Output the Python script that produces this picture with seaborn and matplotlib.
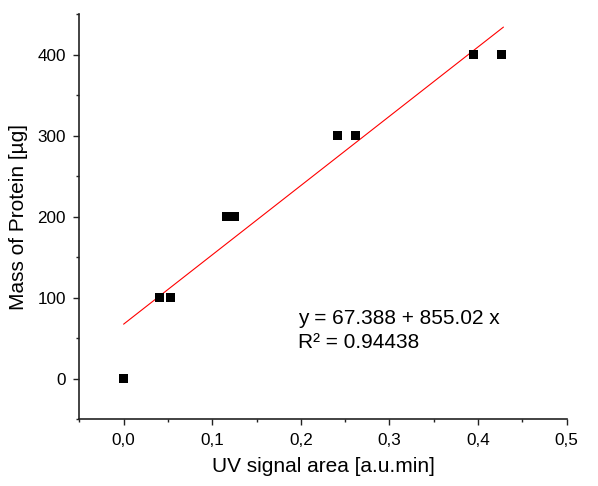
import numpy as np
import pandas as pd
import matplotlib
matplotlib.use("Agg")
import matplotlib.pyplot as plt
import seaborn as sns
from matplotlib.ticker import MultipleLocator, FuncFormatter

uv_area = [0.0, 0.0406, 0.0527, 0.1166, 0.1248, 0.241, 0.2616, 0.395, 0.4266]
mass = [0, 100, 100, 200, 200, 300, 300, 400, 400]
intercept = 67.388
slope = 855.02
r2 = 0.94438
xticks = [0.0, 0.1, 0.2, 0.3, 0.4, 0.5]
yticks = [0, 100, 200, 300, 400]

sns.set_theme(style="ticks")
plt.rcParams['font.family'] = ['Liberation Sans', 'DejaVu Sans']
plt.rcParams['text.color'] = 'black'
plt.rcParams['axes.labelcolor'] = 'black'

df = pd.DataFrame({"x": uv_area, "y": mass})
fig = plt.figure(figsize=(5.98, 4.86), dpi=100)
ax = fig.add_axes([0.1326, 0.1372, 0.8151, 0.834])

xl = np.array([min(uv_area), max(uv_area) + 0.002])
ax.plot(xl, intercept + slope * xl, color="red", lw=0.8, zorder=2)
sns.scatterplot(data=df, x="x", y="y", marker="s", s=42, color="black",
                edgecolor="none", ax=ax, zorder=3)

ax.set_xlim(-0.05, 0.5)
ax.set_ylim(-50, 450)
ax.set_xticks(xticks)
ax.set_yticks(yticks)
ax.xaxis.set_minor_locator(MultipleLocator(0.05))
ax.yaxis.set_minor_locator(MultipleLocator(50))
ax.xaxis.set_major_formatter(FuncFormatter(lambda v, p: f"{v:.1f}".replace(".", ",")))
ax.tick_params(which="major", direction="out", length=4.5, width=1, labelsize=12.3,
               pad=5, colors="#222222", labelcolor="black")
ax.tick_params(which="minor", direction="out", length=2.5, width=1, colors="#222222")
for s in ["top", "right"]:
    ax.spines[s].set_visible(False)
for s in ["left", "bottom"]:
    ax.spines[s].set_linewidth(1.2)
    ax.spines[s].set_color("#222222")

ax.set_xlabel("UV signal area [a.u.min]", fontsize=15, labelpad=7, color="black")
ax.set_ylabel("Mass of Protein [µg]", fontsize=15, labelpad=7, color="black")

ax.text(0.197, 67.8, f"y = {intercept} + {slope} x", fontsize=15,
        va="baseline", ha="left", color="black")
ax.text(0.197, 38.2, f"R² = {r2}", fontsize=15, va="baseline", ha="left",
        color="black")

fig.savefig("out.png", dpi=100)
